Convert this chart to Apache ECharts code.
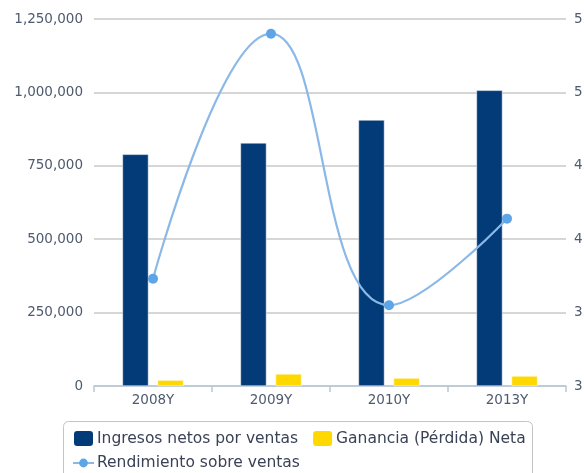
<!DOCTYPE html>
<html>
<head>
<meta charset="utf-8">
<script src="https://cdn.jsdelivr.net/npm/echarts@6/dist/echarts.min.js"></script>
<style>
html,body{margin:0;padding:0;background:#fff;overflow:hidden;}
#chart{width:584px;height:473px;}
</style>
</head>
<body>
<div id="chart"></div>
<script>
const categories = ['2008Y', '2009Y', '2010Y', '2013Y'];
const ingresos = [789000, 828000, 906000, 1007000];
const ganancia = [20000, 41000, 27000, 34000];
const rendimiento = [3.73, 5.40, 3.55, 4.14];
const seriesNames = ['Ingresos netos por ventas', 'Ganancia (Pérdida) Neta', 'Rendimiento sobre ventas'];

const FONT = 'DejaVu Sans';
const chart = echarts.init(document.getElementById('chart'), null, {renderer: 'canvas'});
chart.setOption({
  animation: false,
  backgroundColor: '#fff',
  textStyle: {fontFamily: FONT},
  grid: {left: 94, right: 18, top: 19, bottom: 87, containLabel: false, outerBoundsMode: 'none'},
  graphic: [{
    type: 'rect', z: 0,
    shape: {x: 63.5, y: 421.5, width: 469, height: 70, r: 5},
    style: {fill: '#fff', stroke: '#c4c4c4', lineWidth: 1}
  }],
  legend: [{
    data: [seriesNames[0], seriesNames[1]],
    left: 72, top: 429, padding: 0, itemGap: 13,
    itemWidth: 21, itemHeight: 17, z: 5,
    textStyle: {fontFamily: FONT, fontSize: 15.5, color: '#3a4256', padding: [0, 0, 0, -2]}
  }, {
    data: [seriesNames[2]],
    left: 72, top: 455, padding: 0,
    itemWidth: 21, itemHeight: 11, z: 5,
    textStyle: {fontFamily: FONT, fontSize: 15.5, color: '#3a4256', padding: [0, 0, 0, -2]}
  }],
  xAxis: {
    type: 'category',
    data: categories,
    axisLine: {lineStyle: {color: '#b6c7d9', width: 1.5}},
    axisTick: {show: true, length: 6, lineStyle: {color: '#b6c7d9', width: 1.5}},
    axisLabel: {fontFamily: FONT, fontSize: 13.5, color: '#4e5a6e', margin: 7}
  },
  yAxis: [{
    type: 'value', min: 0, max: 1250000, interval: 250000,
    axisLine: {show: false}, axisTick: {show: false},
    splitLine: {lineStyle: {color: '#c8c8c8', width: 1.5}},
    axisLabel: {
      fontFamily: FONT, fontSize: 13.5, color: '#4e5a6e', margin: 11,
      formatter: v => v.toLocaleString('en-US')
    }
  }, {
    type: 'value', min: 3, max: 5.5, interval: 0.5,
    axisLine: {show: false}, axisTick: {show: false},
    splitLine: {show: false},
    axisLabel: {fontFamily: FONT, fontSize: 13.5, color: '#4e5a6e', margin: 8}
  }],
  series: [{
    name: seriesNames[0], type: 'bar', data: ingresos,
    barWidth: 26, barGap: '35%',
    itemStyle: {color: '#033b78', borderColor: '#fff', borderWidth: 0.5}
  }, {
    name: seriesNames[1], type: 'bar', data: ganancia,
    barWidth: 26,
    itemStyle: {color: '#ffd800', borderColor: '#fff', borderWidth: 0.5}
  }, {
    name: seriesNames[2], type: 'line', yAxisIndex: 1, data: rendimiento,
    smooth: 0.45, symbol: 'circle', symbolSize: 10, z: 10,
    lineStyle: {color: '#8ab9e8', width: 2.2},
    itemStyle: {color: '#5da5e6'}
  }]
});
</script>
</body>
</html>
